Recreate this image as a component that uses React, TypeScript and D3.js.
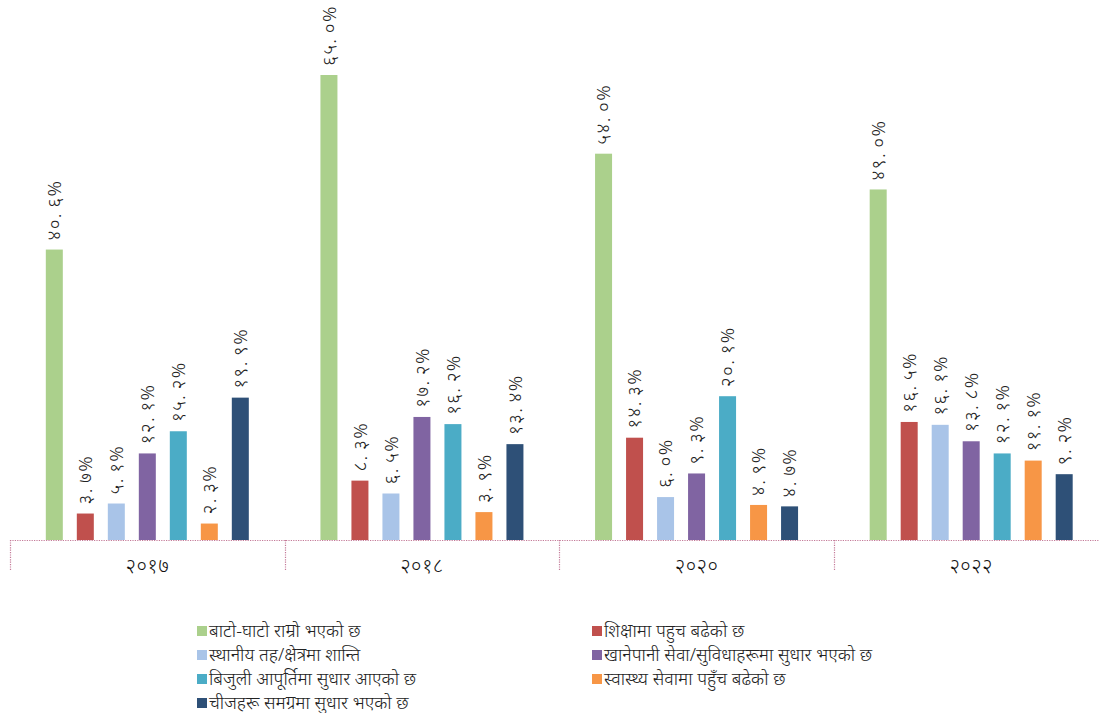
import React from "react";
import * as d3 from "d3";

const years = ["२०१७", "२०१८", "२०२०", "२०२२"];
const seriesNames = [
  "बाटो-घाटो राम्रो भएको छ",
  "शिक्षामा पहुच बढेको छ",
  "स्थानीय तह/क्षेत्रमा शान्ति",
  "खानेपानी सेवा/सुविधाहरूमा सुधार भएको छ",
  "बिजुली आपूर्तिमा सुधार आएको छ",
  "स्वास्थ्य सेवामा पहुँच बढेको छ",
  "चीजहरू समग्रमा सुधार भएको छ",
];
const colors = ["#ABD08C", "#C0504D", "#A9C4E8", "#8064A2", "#4BACC6", "#F79646", "#2E5077"];
const roads = [40.6, 65.0, 54.0, 49.0];
const education = [3.7, 8.3, 14.3, 16.5];
const peace = [5.1, 6.5, 6.0, 16.1];
const water = [12.1, 17.2, 9.3, 13.8];
const electricity = [15.2, 16.2, 20.1, 12.1];
const health = [2.3, 3.9, 4.9, 11.1];
const overall = [19.9, 13.4, 4.7, 9.2];
const seriesValues = [roads, education, peace, water, electricity, health, overall];

const devDigits = "०१२३४५६७८९";
const toDev = (s: string) => s.replace(/[0-9]/g, (d) => devDigits[+d]);
const fmt = (v: number) => toDev(v.toFixed(1)).replace(".", ".\u2009") + "%";

const W = 1099;
const H = 713;
const FONT = "'Noto Sans', 'Noto Sans Devanagari', 'Lohit Devanagari', sans-serif";

export default function App() {
  const baseY = 540;
  const x0 = d3.scaleBand<string>().domain(years).range([10, 1108.5]).paddingInner(0).paddingOuter(0);
  const y = d3.scaleLinear().domain([0, 65]).range([baseY, 75]);
  const groupW = x0.bandwidth();
  const step = 31;
  const barW = 17;
  const xi = d3.scaleLinear().domain([0, 6]).range([-3 * step, 3 * step]);
  const labelSize = 19;

  const legendLeft = [0, 2, 4, 6];
  const legendRight = [1, 3, 5];

  return (
    <div style={{ position: "absolute", left: 0, top: 0 }}>
      <svg width={W} height={H} style={{ display: "block", background: "#fff" }} fontFamily={FONT}>
        {years.map((yr, gi) => {
          const gx = x0(yr)!;
          const cx = gx + groupW / 2;
          return (
            <g key={yr}>
              {seriesValues.map((vals, si) => {
                const v = vals[gi];
                const bcx = cx + xi(si);
                const top = y(v);
                return (
                  <g key={si}>
                    <rect x={bcx - barW / 2} y={top} width={barW} height={baseY - top} fill={colors[si]} />
                    <text
                      transform={`translate(${bcx + labelSize * 0.36},${top - 9}) rotate(-90)`}
                      fontSize={labelSize}
                      fontWeight={300}
                      letterSpacing={1.3}
                      fill="#222"
                      textAnchor="start"
                    >
                      {fmt(v)}
                    </text>
                  </g>
                );
              })}
              <text x={cx} y={573} textAnchor="middle" fontSize={20} fontWeight={300} letterSpacing={0.5} fill="#111">
                {yr}
              </text>
            </g>
          );
        })}
        <line x1={10} x2={W} y1={baseY + 0.5} y2={baseY + 0.5} stroke="#C47A98" strokeWidth={1.2} strokeDasharray="1.2,1.2" />
        {years.map((yr) => {
          const gx = Math.round(x0(yr)!) + 0.5;
          return (
            <line key={"t" + yr} x1={gx} x2={gx} y1={baseY} y2={571} stroke="#C47A98" strokeWidth={1.2} strokeDasharray="1.2,1.2" />
          );
        })}
        {legendLeft.map((si, r) => (
          <g key={"l" + si} transform={`translate(197,${631 + r * 24})`}>
            <rect x={0} y={-5} width={10} height={10} fill={colors[si]} />
            <text x={12} y={6} fontSize={18} fontWeight={300} fill="#222">
              {seriesNames[si]}
            </text>
          </g>
        ))}
        {legendRight.map((si, r) => (
          <g key={"r" + si} transform={`translate(592,${631 + r * 24})`}>
            <rect x={0} y={-5} width={10} height={10} fill={colors[si]} />
            <text x={12} y={6} fontSize={18} fontWeight={300} fill="#222">
              {seriesNames[si]}
            </text>
          </g>
        ))}
      </svg>
    </div>
  );
}
